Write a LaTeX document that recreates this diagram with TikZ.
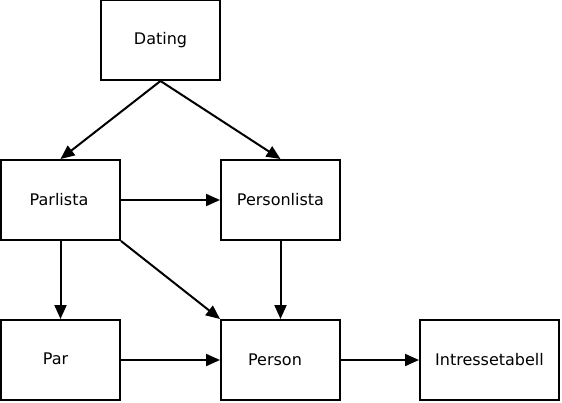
\documentclass[tikz,border=0pt]{standalone}
\usepackage{fontspec}
\setmainfont{DejaVu Sans}
\usetikzlibrary{arrows.meta}

\begin{document}
\begin{tikzpicture}[x=1pt, y=-1pt, font=\fontsize{16}{19}\selectfont]
    \tikzset{
        entity/.style={rectangle, draw=black, line width=2pt, fill=white,
            minimum width=119pt, minimum height=80pt, inner sep=0pt},
        link/.style={line width=2pt, -{Triangle[length=14pt, width=12pt]}}
    }
    \useasboundingbox (0,0) rectangle (562,402);
    \node[entity] (dating) at (160.5,40) {\raisebox{-2pt}{Dating}};
    \node[entity] (parlista) at (60.5,200) {Parlista\kern3pt};
    \node[entity] (personlista) at (280.5,200) {Personlista};
    \node[entity] (par) at (60.5,360) {\raisebox{3pt}{Par}\kern10pt};
    \node[entity] (person) at (280.5,360) {Person\kern11pt};
    \node[entity, minimum width=139pt] (intresse) at (489.5,360) {Intressetabell};
    \draw[link] (dating.south) -- (parlista.north);
    \draw[link] (dating.south) -- (personlista.north);
    \draw[link] (parlista) -- (personlista);
    \draw[link] (parlista) -- (par);
    \draw[link] (parlista.south east) -- (person.north west);
    \draw[link] (personlista) -- (person);
    \draw[link] (par) -- (person);
    \draw[link] (person) -- (intresse);
\end{tikzpicture}
\end{document}
